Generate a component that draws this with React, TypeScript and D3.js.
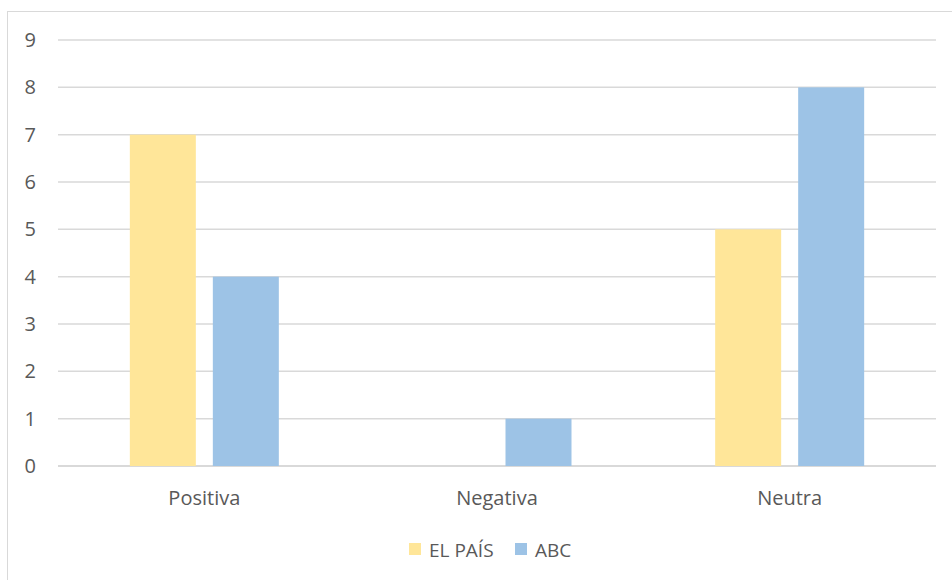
import React from "react";
import * as d3 from "d3";

const categories = ["Positiva", "Negativa", "Neutra"];
const seriesNames = ["EL PAÍS", "ABC"];
const elPais = [7, 0, 5];
const abc = [4, 1, 8];
const yTicks = [0, 1, 2, 3, 4, 5, 6, 7, 8, 9];
const colors = ["#FFE699", "#9DC3E6"];

export default function App() {
  const W = 952, H = 580;
  const left = 58, right = 936, top = 40, bottom = 466;
  const x = d3.scaleBand().domain(categories).range([left, right]).paddingInner(0).paddingOuter(0);
  const y = d3.scaleLinear().domain([0, 9]).range([bottom, top]);
  const values = [elPais, abc];
  const barW = 66;
  const gap = 17;
  const font = "'Open Sans', sans-serif";
  const fs = 20;
  return (
    <svg width={W} height={H} style={{ position: "absolute", left: 0, top: 0 }}>
      <rect x={0} y={0} width={W} height={H} fill="#fff" />
      <rect x={7.5} y={11.5} width={W + 10} height={H + 10} fill="#fff" stroke="#D9D9D9" strokeWidth={1} />
      {yTicks.map((t) => (
        <g key={t}>
          <line x1={left} x2={right} y1={y(t)} y2={y(t)} stroke="#D9D9D9" strokeWidth={t === 0 ? 2 : 1.5} />
          <text x={36} y={y(t) + 7} textAnchor="end" fontFamily={font} fontSize={fs} fill="#595959">{t}</text>
        </g>
      ))}
      {categories.map((c, i) => {
        const cx = (x(c) as number) + x.bandwidth() / 2;
        const total = barW * 2 + gap;
        return (
          <g key={c}>
            {values.map((vals, s) => {
              const bx = cx - total / 2 + s * (barW + gap);
              return vals[i] > 0 ? (
                <rect key={s} x={bx} y={y(vals[i])} width={barW} height={y(0) - y(vals[i])} fill={colors[s]} />
              ) : null;
            })}
            <text x={cx} y={505} textAnchor="middle" fontFamily={font} fontSize={fs} fill="#595959">{c}</text>
          </g>
        );
      })}
      {(() => {
        const items = [
          { name: seriesNames[0], sx: 409, tx: 429 },
          { name: seriesNames[1], sx: 515, tx: 535 },
        ];
        return items.map((it, i) => (
          <g key={it.name}>
            <rect x={it.sx} y={543} width={12} height={12} fill={colors[i]} />
            <text x={it.tx} y={557} fontFamily={font} fontSize={fs - 1} fill="#595959">{it.name}</text>
          </g>
        ));
      })()}
    </svg>
  );
}
